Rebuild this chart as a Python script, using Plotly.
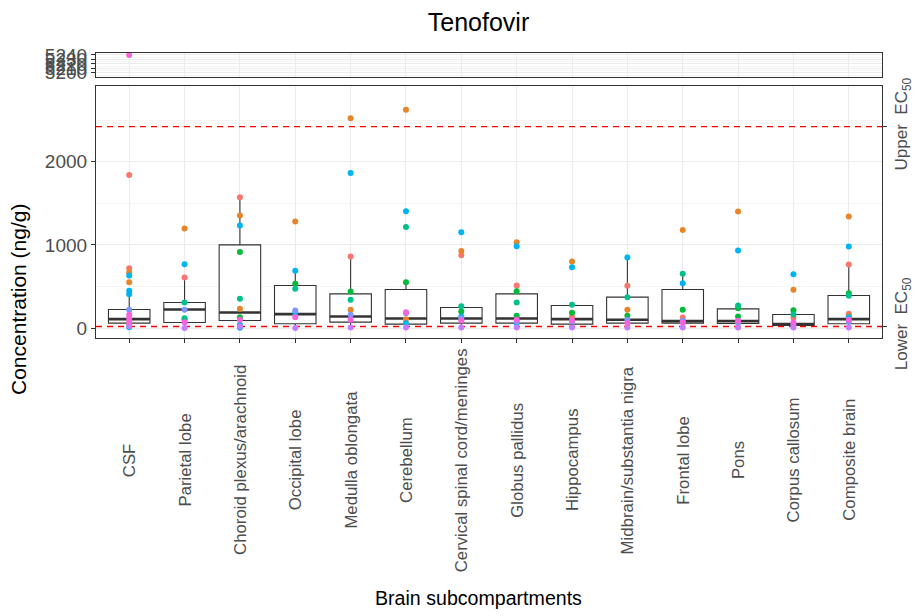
import plotly.graph_objects as go

# Brain compartments on the x axis
CATEGORIES = [
    "CSF", "Parietal lobe", "Choroid plexus/arachnoid", "Occipital lobe",
    "Medulla oblongata", "Cerebellum", "Cervical spinal cord/meninges",
    "Globus pallidus", "Hippocampus", "Midbrain/substantia nigra",
    "Frontal lobe", "Pons", "Corpus callosum", "Composite brain",
]

# Box summary per compartment (ng/g)
box_q1 = [60, 68, 92, 52, 72, 48, 60, 60, 48, 60, 60, 55, 32, 52]
box_median = [108, 224, 188, 168, 140, 116, 116, 116, 108, 100, 84, 84, 48, 108]
box_q3 = [224, 308, 1000, 512, 412, 464, 248, 412, 272, 372, 464, 232, 164, 392]
box_low = [8, 2, 5, 2, 8, 8, 8, 8, 8, 8, 8, 8, 8, 8]
box_high = [448, 608, 1572, 688, 860, 552, 264, 512, 280, 848, 652, 272, 216, 764]

# EC50 reference levels (ng/g)
LOWER_EC50 = 20
UPPER_EC50 = 2420

# Individual measurements, one list per subject: (compartment, ng/g)
subj_salmon = [
    ("CSF", 1840), ("CSF", 720), ("CSF", 40), ("Parietal lobe", 608),
    ("Choroid plexus/arachnoid", 1572), ("Medulla oblongata", 860),
    ("Cervical spinal cord/meninges", 876), ("Globus pallidus", 512),
    ("Hippocampus", 140), ("Midbrain/substantia nigra", 508),
    ("Frontal lobe", 128), ("Corpus callosum", 124),
    ("Composite brain", 764), ("Composite brain", 172),
]
subj_orange = [
    ("CSF", 672), ("CSF", 552), ("Parietal lobe", 1196),
    ("Choroid plexus/arachnoid", 1352), ("Choroid plexus/arachnoid", 232),
    ("Occipital lobe", 1280), ("Medulla oblongata", 2520),
    ("Medulla oblongata", 220), ("Cerebellum", 2624), ("Cerebellum", 108),
    ("Cervical spinal cord/meninges", 928), ("Globus pallidus", 1032),
    ("Hippocampus", 800), ("Midbrain/substantia nigra", 220),
    ("Frontal lobe", 1180), ("Pons", 1400), ("Corpus callosum", 460),
    ("Composite brain", 1340), ("Composite brain", 150),
]
subj_green = [
    ("Parietal lobe", 100), ("Choroid plexus/arachnoid", 916),
    ("Choroid plexus/arachnoid", 132), ("Occipital lobe", 532),
    ("Medulla oblongata", 440), ("Cerebellum", 552),
    ("Cervical spinal cord/meninges", 200), ("Globus pallidus", 444),
    ("Globus pallidus", 148), ("Hippocampus", 184),
    ("Midbrain/substantia nigra", 148), ("Frontal lobe", 220),
    ("Pons", 240), ("Pons", 140), ("Corpus callosum", 216),
    ("Composite brain", 420),
]
subj_teal = [
    ("Parietal lobe", 308), ("Parietal lobe", 120),
    ("Choroid plexus/arachnoid", 352), ("Occipital lobe", 472),
    ("Medulla oblongata", 340), ("Cerebellum", 1216),
    ("Cervical spinal cord/meninges", 264), ("Globus pallidus", 308),
    ("Hippocampus", 280), ("Midbrain/substantia nigra", 372),
    ("Frontal lobe", 652), ("Pons", 272), ("Corpus callosum", 164),
    ("Composite brain", 388),
]
subj_cyan = [
    ("CSF", 632), ("CSF", 448), ("CSF", 408), ("CSF", 12),
    ("Parietal lobe", 768), ("Choroid plexus/arachnoid", 1232),
    ("Choroid plexus/arachnoid", 40), ("Choroid plexus/arachnoid", 5),
    ("Occipital lobe", 688), ("Occipital lobe", 184),
    ("Medulla oblongata", 1864), ("Cerebellum", 1404), ("Cerebellum", 60),
    ("Cervical spinal cord/meninges", 1152),
    ("Cervical spinal cord/meninges", 140), ("Globus pallidus", 984),
    ("Globus pallidus", 60), ("Hippocampus", 732),
    ("Midbrain/substantia nigra", 848), ("Frontal lobe", 540),
    ("Pons", 932), ("Corpus callosum", 648), ("Composite brain", 980),
    ("Composite brain", 132),
]
subj_blue = [
    ("CSF", 220), ("Parietal lobe", 220), ("Occipital lobe", 212),
    ("Medulla oblongata", 160), ("Cerebellum", 180),
    ("Cervical spinal cord/meninges", 120), ("Globus pallidus", 80),
    ("Hippocampus", 80), ("Midbrain/substantia nigra", 100),
    ("Frontal lobe", 90), ("Pons", 60), ("Corpus callosum", 40),
    ("Composite brain", 80),
]
subj_purple = [
    ("CSF", 25), ("Parietal lobe", 2), ("Choroid plexus/arachnoid", 20),
    ("Occipital lobe", 2), ("Medulla oblongata", 8), ("Cerebellum", 8),
    ("Cervical spinal cord/meninges", 8), ("Globus pallidus", 8),
    ("Hippocampus", 8), ("Midbrain/substantia nigra", 8),
    ("Frontal lobe", 8), ("Pons", 8), ("Corpus callosum", 8),
    ("Composite brain", 8),
]
subj_magenta = [
    ("CSF", 5240), ("CSF", 160), ("CSF", 120), ("CSF", 80),
    ("Parietal lobe", 70), ("Choroid plexus/arachnoid", 100),
    ("Occipital lobe", 132), ("Medulla oblongata", 100),
    ("Cerebellum", 192), ("Cervical spinal cord/meninges", 92),
    ("Globus pallidus", 100), ("Hippocampus", 92),
    ("Midbrain/substantia nigra", 60), ("Frontal lobe", 68),
    ("Pons", 90), ("Corpus callosum", 68), ("Composite brain", 100),
]

subjects = [
    (subj_salmon, "#F8766D"), (subj_orange, "#E8852A"),
    (subj_green, "#00BA38"), (subj_teal, "#00C08B"),
    (subj_cyan, "#00B4EF"), (subj_blue, "#7F96FF"),
    (subj_purple, "#C77CFF"), (subj_magenta, "#F962DD"),
]

W, H = 913, 616
BOX_WIDTH = 0.75
n = len(CATEGORIES)
pos = list(range(n))
x_range = [-0.6, n - 1 + 0.6]
INK = "#333333"
TICK_COLOR = "#4D4D4D"
GRID = "#EBEBEB"
GRID_MINOR = "#F4F4F4"
FONT = "Liberation Sans, Arial"

fig = go.Figure()

# Boxes on the main panel
fig.add_trace(go.Box(
    x=pos, q1=box_q1, median=box_median, q3=box_q3,
    lowerfence=box_low, upperfence=box_high,
    width=BOX_WIDTH, whiskerwidth=0, boxpoints=False,
    fillcolor="white", line=dict(color=INK, width=1.1),
    xaxis="x", yaxis="y", showlegend=False, hoverinfo="skip",
))

# Heavier median bars, as in ggplot
mx, my = [], []
for i, m in zip(pos, box_median):
    mx += [i - BOX_WIDTH / 2, i + BOX_WIDTH / 2, None]
    my += [m, m, None]
fig.add_trace(go.Scatter(
    x=mx, y=my, mode="lines", line=dict(color=INK, width=2.6),
    xaxis="x", yaxis="y", showlegend=False, hoverinfo="skip",
))

# EC50 reference lines
for level in (LOWER_EC50, UPPER_EC50):
    fig.add_trace(go.Scatter(
        x=x_range, y=[level, level], mode="lines",
        line=dict(color="#FF0000", width=1.3, dash="6px,5px"),
        xaxis="x", yaxis="y", showlegend=False, hoverinfo="skip",
    ))

# Subject points, drawn on both the main and the upper (broken) panel
idx = {c: i for i, c in enumerate(CATEGORIES)}
for pts, color in subjects:
    xs = [idx[c] for c, _ in pts]
    ys = [v for _, v in pts]
    for xa, ya in (("x", "y"), ("x2", "y2")):
        fig.add_trace(go.Scatter(
            x=xs, y=ys, mode="markers",
            marker=dict(color=color, size=6, line=dict(width=0)),
            xaxis=xa, yaxis=ya, showlegend=False,
        ))

# Carrier for the right-hand EC50 axis
fig.add_trace(go.Scatter(
    x=[0], y=[UPPER_EC50], mode="markers", marker=dict(opacity=0),
    xaxis="x", yaxis="y3", showlegend=False, hoverinfo="skip",
))

x_dom = [96 / W, 882 / W]
main_dom = [1 - 338.3 / H, 1 - 85.7 / H]
top_dom = [1 - 77.3 / H, 1 - 52.7 / H]
main_range = [-122, 2912]

ytickfont = dict(family=FONT, size=19, color=TICK_COLOR)
rtickfont = dict(family=FONT, size=17, color=TICK_COLOR)

# Category labels, vertically centred under the axis
cat_labels = [
    dict(text=c, textangle=-90, x=i, xref="x", y=1 - 460 / H, yref="paper",
         xanchor="center", yanchor="middle", showarrow=False,
         font=dict(family=FONT, size=16.8, color=TICK_COLOR))
    for i, c in enumerate(CATEGORIES)
]

fig.update_layout(
    width=W, height=H, margin=dict(l=0, r=0, t=0, b=0, autoexpand=False),
    paper_bgcolor="white", plot_bgcolor="white",
    font=dict(family=FONT, color="black"),
    title=dict(text="Tenofovir", x=478.5 / W, xanchor="center",
               y=1 - 22 / H, yanchor="middle",
               font=dict(size=25, color="black")),
    xaxis=dict(
        domain=x_dom, range=x_range, anchor="y", automargin=False,
        tickvals=pos, showticklabels=False,
        ticks="outside", ticklen=4, tickcolor=INK,
        showgrid=True, gridcolor=GRID, gridwidth=1.1, zeroline=False,
        showline=True, linecolor=INK, linewidth=1.1, mirror=True,
    ),
    yaxis=dict(
        domain=main_dom, range=main_range, anchor="x", automargin=False,
        tickvals=[0, 1000, 2000], tickfont=ytickfont,
        ticks="outside", ticklen=4, tickcolor=INK,
        showgrid=True, gridcolor=GRID, gridwidth=1.1, zeroline=False,
        minor=dict(tickvals=[500, 1500, 2500], showgrid=True,
                   gridcolor=GRID_MINOR, gridwidth=0.6, ticks=""),
        showline=True, linecolor=INK, linewidth=1.1, mirror=True,
    ),
    xaxis2=dict(
        domain=x_dom, range=x_range, anchor="y2", matches="x",
        automargin=False,
        tickvals=pos, showticklabels=False, ticks="",
        showgrid=True, gridcolor=GRID, gridwidth=1.1, zeroline=False,
        showline=True, linecolor=INK, linewidth=1.1, mirror=True,
    ),
    yaxis2=dict(
        domain=top_dom, range=[5190, 5245], anchor="x2", automargin=False,
        tickvals=[5200, 5210, 5220, 5230, 5240], tickfont=ytickfont,
        ticks="outside", ticklen=4, tickcolor=INK,
        showgrid=True, gridcolor=GRID, gridwidth=1.1, zeroline=False,
        minor=dict(tickvals=[5195, 5205, 5215, 5225, 5235], showgrid=True,
                   gridcolor=GRID_MINOR, gridwidth=0.6, ticks=""),
        showline=True, linecolor=INK, linewidth=1.1, mirror=True,
    ),
    yaxis3=dict(
        overlaying="y", side="right", anchor="x", range=main_range,
        automargin=False,
        tickvals=[LOWER_EC50, UPPER_EC50],
        ticktext=["Lower  EC<sub>50</sub>", "Upper  EC<sub>50</sub>"],
        tickangle=-90, tickfont=rtickfont, ticklabelstandoff=0,
        ticks="outside", ticklen=4, tickcolor=INK,
        showgrid=False, zeroline=False, showline=False,
    ),
    annotations=cat_labels + [
        dict(text="Concentration (ng/g)", textangle=-90,
             x=18 / W, y=1 - 300 / H, xref="paper", yref="paper",
             xanchor="center", yanchor="middle", showarrow=False,
             font=dict(size=21, color="black")),
        dict(text="Brain subcompartments",
             x=478.5 / W, y=1 - 598 / H, xref="paper", yref="paper",
             xanchor="center", yanchor="middle", showarrow=False,
             font=dict(size=19.6, color="black")),
    ],
)

fig.write_html("out.html")
